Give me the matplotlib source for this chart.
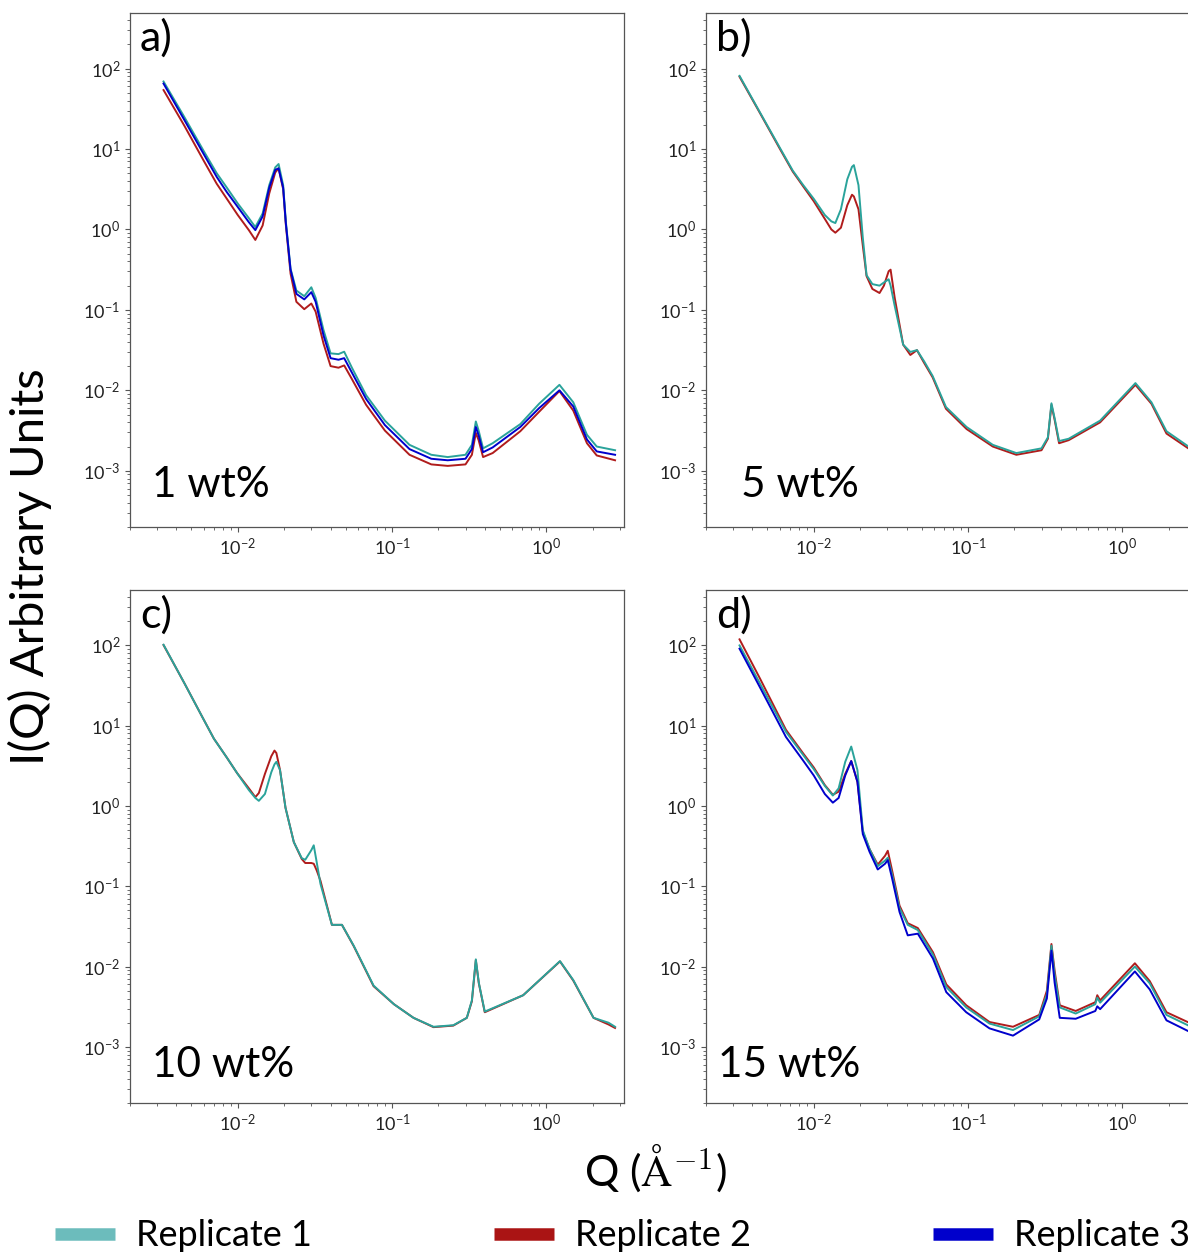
import matplotlib
matplotlib.use("Agg")
import matplotlib.pyplot as plt
from matplotlib.lines import Line2D

plt.rcParams['font.family'] = ['Lato', 'DejaVu Sans']

# ---- data (Q in 1/A, I in arbitrary units) ----
# a) 1 wt%
q_a = [0.0033, 0.0045, 0.006, 0.0073, 0.0085, 0.010, 0.0118, 0.013, 0.0145, 0.016,
       0.0175, 0.0184, 0.0197, 0.0205, 0.022, 0.024, 0.027, 0.030, 0.032, 0.036,
       0.040, 0.045, 0.049, 0.055, 0.068, 0.09, 0.13, 0.18, 0.23, 0.30,
       0.33, 0.35, 0.365, 0.39, 0.45, 0.68, 0.90, 1.22, 1.50, 1.84, 2.13, 2.80]
a_rep1 = [69, 25, 9.5, 5.0, 3.3, 2.1, 1.38, 1.07, 1.58, 3.55,
          5.9, 6.5, 3.55, 1.26, 0.324, 0.174, 0.148, 0.191, 0.141, 0.056,
          0.0288, 0.0282, 0.0302, 0.0191, 0.0087, 0.0042, 0.0021, 0.00158, 0.00148, 0.00158,
          0.0021, 0.0041, 0.00316, 0.0019, 0.0022, 0.0038, 0.0068, 0.0117, 0.0071, 0.0028, 0.0020, 0.0018]
a_rep2 = [54, 19.5, 7.2, 3.7, 2.4, 1.51, 0.98, 0.74, 1.12, 2.8,
          5.1, 5.75, 3.16, 1.15, 0.282, 0.126, 0.102, 0.120, 0.095, 0.038,
          0.020, 0.0191, 0.0204, 0.0138, 0.0066, 0.00316, 0.00158, 0.0012, 0.00115, 0.0012,
          0.00158, 0.00295, 0.0024, 0.00148, 0.00166, 0.0031, 0.0054, 0.0098, 0.0056, 0.0022, 0.00155, 0.00135]
a_rep3 = [65, 23, 8.7, 4.5, 2.9, 1.9, 1.23, 0.98, 1.45, 3.3,
          5.5, 5.75, 3.3, 1.2, 0.316, 0.158, 0.135, 0.166, 0.126, 0.048,
          0.0251, 0.024, 0.0251, 0.0166, 0.0078, 0.0037, 0.00186, 0.00141, 0.00135, 0.00141,
          0.00186, 0.0035, 0.00275, 0.0017, 0.00195, 0.0035, 0.006, 0.010, 0.0063, 0.00245, 0.00174, 0.00158]

# b) 5 wt%
q_b = [0.0033, 0.0045, 0.006, 0.0073, 0.0085, 0.010, 0.0118, 0.013, 0.0138, 0.015,
       0.0165, 0.0177, 0.0182, 0.0195, 0.0208, 0.022, 0.024, 0.0267, 0.0285, 0.0306,
       0.0315, 0.0335, 0.038, 0.0423, 0.0467, 0.052, 0.059, 0.072, 0.098, 0.145,
       0.206, 0.30, 0.33, 0.348, 0.365, 0.39, 0.45, 0.72, 1.22, 1.55, 1.94, 2.80]
b_rep1 = [81, 28, 10.5, 5.4, 3.6, 2.4, 1.51, 1.26, 1.2, 1.78,
          4.2, 6.0, 6.3, 3.55, 0.79, 0.27, 0.209, 0.2, 0.219, 0.24,
          0.2, 0.112, 0.037, 0.030, 0.0316, 0.0229, 0.0151, 0.0062, 0.0035, 0.0021,
          0.00166, 0.0019, 0.0026, 0.0069, 0.0045, 0.00234, 0.0025, 0.0042, 0.0123, 0.0071, 0.0031, 0.0019]
b_rep2 = [79, 27.5, 10.2, 5.25, 3.47, 2.24, 1.35, 1.0, 0.91, 1.05,
          2.0, 2.7, 2.57, 1.78, 0.63, 0.263, 0.182, 0.162, 0.2, 0.302,
          0.316, 0.141, 0.037, 0.0275, 0.0316, 0.0219, 0.0145, 0.0059, 0.0033, 0.0020,
          0.00158, 0.0018, 0.0025, 0.0066, 0.0043, 0.0022, 0.0024, 0.004, 0.0117, 0.0068, 0.0029, 0.0018]

# c) 10 wt%
q_c = [0.0033, 0.0045, 0.006, 0.0070, 0.0085, 0.0099, 0.0118, 0.013, 0.0137, 0.015,
       0.0165, 0.0173, 0.0178, 0.0188, 0.0204, 0.0231, 0.0260, 0.0274, 0.0300, 0.0311,
       0.0325, 0.0344, 0.0408, 0.0474, 0.0565, 0.076, 0.103, 0.138, 0.186, 0.25,
       0.306, 0.33, 0.35, 0.366, 0.40, 0.71, 1.23, 1.50, 2.03, 2.54, 2.80]
c_rep1 = [102, 34, 12, 6.9, 4.0, 2.57, 1.58, 1.26, 1.16, 1.41,
          2.63, 3.3, 3.55, 2.8, 0.95, 0.355, 0.224, 0.214, 0.282, 0.324,
          0.2, 0.107, 0.0331, 0.0331, 0.0182, 0.0058, 0.0034, 0.0023, 0.00178, 0.00186,
          0.0023, 0.0038, 0.0123, 0.0063, 0.00275, 0.0044, 0.0117, 0.0068, 0.0023, 0.0020, 0.00178]
c_rep2 = [101, 34, 12, 6.9, 4.0, 2.57, 1.66, 1.29, 1.45, 2.51,
          4.17, 4.9, 4.57, 2.8, 0.95, 0.355, 0.219, 0.195, 0.195, 0.191,
          0.158, 0.117, 0.0331, 0.0331, 0.018, 0.0057, 0.0034, 0.0023, 0.00176, 0.00184,
          0.0023, 0.0037, 0.012, 0.0062, 0.0027, 0.0044, 0.0116, 0.0067, 0.0023, 0.0019, 0.00172]

# d) 15 wt%
q_d = [0.0033, 0.0045, 0.0066, 0.0085, 0.010, 0.0118, 0.0133, 0.0145, 0.016, 0.0175,
       0.0192, 0.0208, 0.023, 0.026, 0.0290, 0.0302, 0.0322, 0.036, 0.0407, 0.0473,
       0.0593, 0.0724, 0.0975, 0.138, 0.196, 0.29, 0.325, 0.348, 0.365, 0.394,
       0.50, 0.67, 0.69, 0.72, 1.21, 1.51, 1.94, 2.80]
d_rep1 = [100, 33, 8.4, 4.37, 2.88, 1.78, 1.35, 1.66, 3.55, 5.5,
          2.8, 0.5, 0.291, 0.178, 0.209, 0.227, 0.141, 0.0537, 0.0331, 0.0285,
          0.0141, 0.00555, 0.0031, 0.00195, 0.00162, 0.0024, 0.0045, 0.0182, 0.0079, 0.0031,
          0.0026, 0.0034, 0.0041, 0.00355, 0.010, 0.0062, 0.0025, 0.00178]
d_rep2 = [119, 38, 8.9, 4.57, 3.02, 1.82, 1.38, 1.51, 2.51, 3.63,
          2.0, 0.479, 0.291, 0.186, 0.24, 0.277, 0.158, 0.0575, 0.0347, 0.0302,
          0.0151, 0.006, 0.0033, 0.00204, 0.00178, 0.0025, 0.005, 0.0191, 0.0089, 0.0033,
          0.0028, 0.0036, 0.0044, 0.0038, 0.011, 0.0066, 0.0027, 0.00195]
d_rep3 = [91, 29.5, 7.24, 3.72, 2.4, 1.41, 1.10, 1.26, 2.4, 3.63,
          2.0, 0.447, 0.269, 0.162, 0.191, 0.212, 0.126, 0.0479, 0.0245, 0.0257,
          0.0126, 0.0048, 0.0027, 0.0017, 0.00138, 0.0022, 0.004, 0.0158, 0.0063, 0.0023,
          0.00224, 0.0028, 0.0032, 0.00295, 0.0087, 0.0052, 0.00214, 0.00151]

panel_letters = ['a)', 'b)', 'c)', 'd)']
conc_labels = ['1 wt%', '5 wt%', '10 wt%', '15 wt%']
rep_names = ['Replicate 1', 'Replicate 2', 'Replicate 3']

c_teal = '#2aa39b'
c_red = '#b01c1c'
c_blue = '#0000cc'
legend_colors = ['#6cbcbc', '#aa1414', '#0000cc']

panels = [
    (q_a, {'rep2': a_rep2, 'rep1': a_rep1, 'rep3': a_rep3}),
    (q_b, {'rep2': b_rep2, 'rep1': b_rep1}),
    (q_c, {'rep2': c_rep2, 'rep1': c_rep1}),
    (q_d, {'rep2': d_rep2, 'rep1': d_rep1, 'rep3': d_rep3}),
]
colors = {'rep1': c_teal, 'rep2': c_red, 'rep3': c_blue}

fig = plt.figure(figsize=(11.88, 12.53), dpi=100)

W, H = 1188, 1253
boxes = [(130, 13, 624, 527), (706, 13, 1200, 527),
         (130, 590, 624, 1103), (706, 590, 1200, 1103)]
conc_pos = [(0.045, 0.058), (0.071, 0.058), (0.045, 0.05), (0.024, 0.05)]

for i, (q, reps) in enumerate(panels):
    x0, y0, x1, y1 = boxes[i]
    ax = fig.add_axes([x0 / W, 1 - y1 / H, (x1 - x0) / W, (y1 - y0) / H])
    for key, vals in reps.items():
        ax.plot(q, vals, color=colors[key], lw=1.4)
    ax.set_xscale('log')
    ax.set_yscale('log')
    ax.set_xlim(2.0e-3, 3.2)
    ax.set_ylim(2.0e-4, 490)
    for s in ax.spines.values():
        s.set_color('#555555')
        s.set_linewidth(0.9)
    ax.tick_params(which='both', colors='#555555', labelcolor='#222222', labelsize=13)
    ax.text(0.02, 0.99, panel_letters[i], transform=ax.transAxes,
            fontsize=31, va='top', ha='left')
    ax.text(conc_pos[i][0], conc_pos[i][1], conc_labels[i], transform=ax.transAxes,
            fontsize=30.5, va='baseline', ha='left')

fig.text(30 / W, 1 - 567 / H, 'I(Q) Arbitrary Units', rotation=90,
         fontsize=34, ha='center', va='center')
fig.text(655 / W, 1 - 1168 / H, r'Q ($\mathrm{\AA}^{-1}$)', fontsize=31,
         ha='center', va='center', math_fontfamily='cm')

leg_x = [55, 494, 933]
for name, col, lx in zip(rep_names, legend_colors, leg_x):
    h = Line2D([], [], color=col, lw=9, solid_capstyle='butt')
    fig.legend(handles=[h], labels=[name], loc='center left',
               bbox_to_anchor=(lx / W, 1 - 1236 / H), frameon=False,
               borderpad=0, borderaxespad=0, handlelength=1.65,
               handletextpad=0.6, fontsize=26)

fig.savefig('out.png', dpi=100)
